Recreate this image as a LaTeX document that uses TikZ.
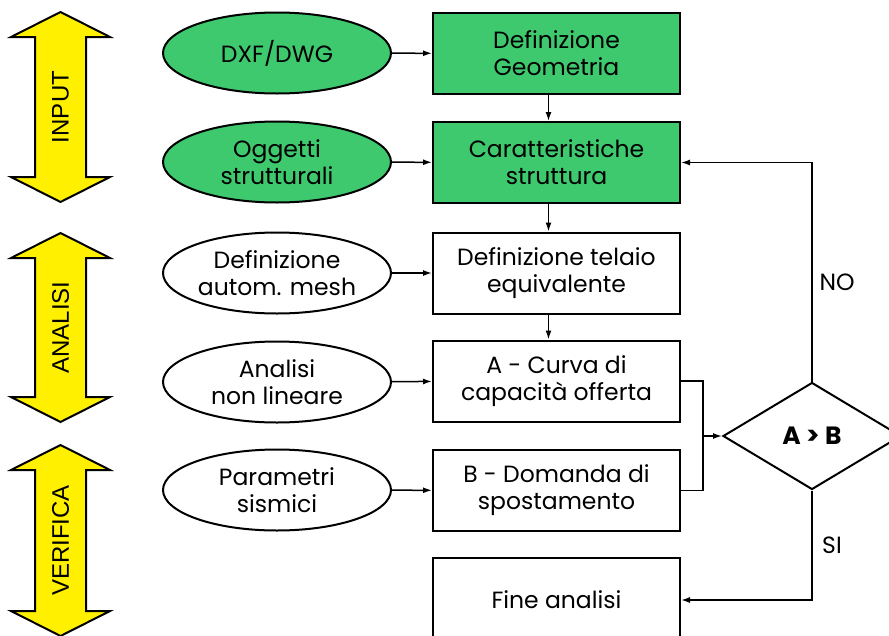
\documentclass[tikz,border=0pt]{standalone}
\usepackage{fontspec}
\setmainfont{Poppins}
\newfontfamily\arialfont{Liberation Sans}
\usetikzlibrary{shapes.geometric,arrows.meta}
\definecolor{boxgreen}{RGB}{62,201,110}
\definecolor{phaseyellow}{RGB}{255,240,0}

\begin{document}
\begin{tikzpicture}[x=1pt,y=-1pt,
    every node/.style={font=\fontsize{23.5}{27}\selectfont, align=center},
    proc/.style={draw, line width=2pt, minimum width=247pt, minimum height=81pt, inner sep=0pt},
    src/.style={draw, ellipse, line width=2pt, minimum width=228pt, minimum height=81pt, inner sep=0pt},
    arr/.style={line width=1.5pt, -{Latex[length=9pt,width=6pt]}},
    phase/.style={draw, line width=2pt, fill=phaseyellow, line join=miter}]
    \useasboundingbox (0,0) rectangle (889,635);

    % fasi
    \foreach \t/\b/\lab in {12/202/INPUT,233/422/ANALISI,445/636/VERIFICA}{
      \draw[phase] (60.5,\t) -- (110,\t+25) -- (86,\t+25) -- (86,\b-25) -- (110,\b-25)
        -- (60.5,\b) -- (11,\b-25) -- (35,\b-25) -- (35,\t+25) -- (11,\t+25) -- cycle;
      \node[rotate=90, font=\arialfont\fontsize{24}{24}\selectfont] (\lab) at (60.5,{(\t+\b)/2}) {\lab};
    }

    \node[src, fill=boxgreen] (dxf) at (277,53) {DXF/DWG};
    \node[src, fill=boxgreen] (ogg) at (277,162) {Oggetti\\strutturali};
    \node[src] (mesh) at (277,273) {Definizione\\autom. mesh};
    \node[src] (nonlin) at (277,382) {Analisi\\non lineare};
    \node[src] (sism) at (277,490) {Parametri\\sismici};

    \node[proc, fill=boxgreen] (geom) at (556.5,53.5) {Definizione\\Geometria};
    \node[proc, fill=boxgreen] (caratt) at (556.5,162.5) {Caratteristiche\\struttura};
    \node[proc] (telaio) at (556.5,273) {Definizione telaio\\equivalente};
    \node[proc] (curva) at (556.5,381) {A - Curva di\\capacità offerta};
    \node[proc] (domanda) at (556.5,490.5) {B - Domanda di\\spostamento};
    \node[proc, minimum height=84pt] (fine) at (556.5,600) {Fine analisi};

    \node[diamond, draw, line width=2pt, minimum width=178pt, minimum height=107pt, inner sep=0pt,
      font=\bfseries\fontsize{25}{25}\selectfont] (check) at (812,436) {A > B};
    \coordinate (join) at (703,436);
    \node (no) at (837,282) {NO};
    \node (si) at (832,545) {SI};

    \draw[arr] (dxf) -- (geom);
    \draw[arr] (ogg) -- (caratt);
    \draw[arr] (mesh) -- (telaio);
    \draw[arr] (nonlin) -- (curva);
    \draw[arr] (sism) -- (domanda);

    \draw[arr] ([xshift=-8pt]geom.south) -- ([xshift=-8pt]caratt.north);
    \draw[arr] ([xshift=-8pt]caratt.south) -- ([xshift=-8pt]telaio.north);
    \draw[arr] ([xshift=-8pt]telaio.south) -- ([xshift=-8pt]curva.north);

    \draw[line width=1.5pt] (curva.east) -| (join) |- (domanda.east);
    \draw[arr] (join) -- (check.west);
    \draw[arr] (check.north) |- (caratt.east);
    \draw[arr] (check.south) |- (fine.east);
  \end{tikzpicture}
\end{document}
